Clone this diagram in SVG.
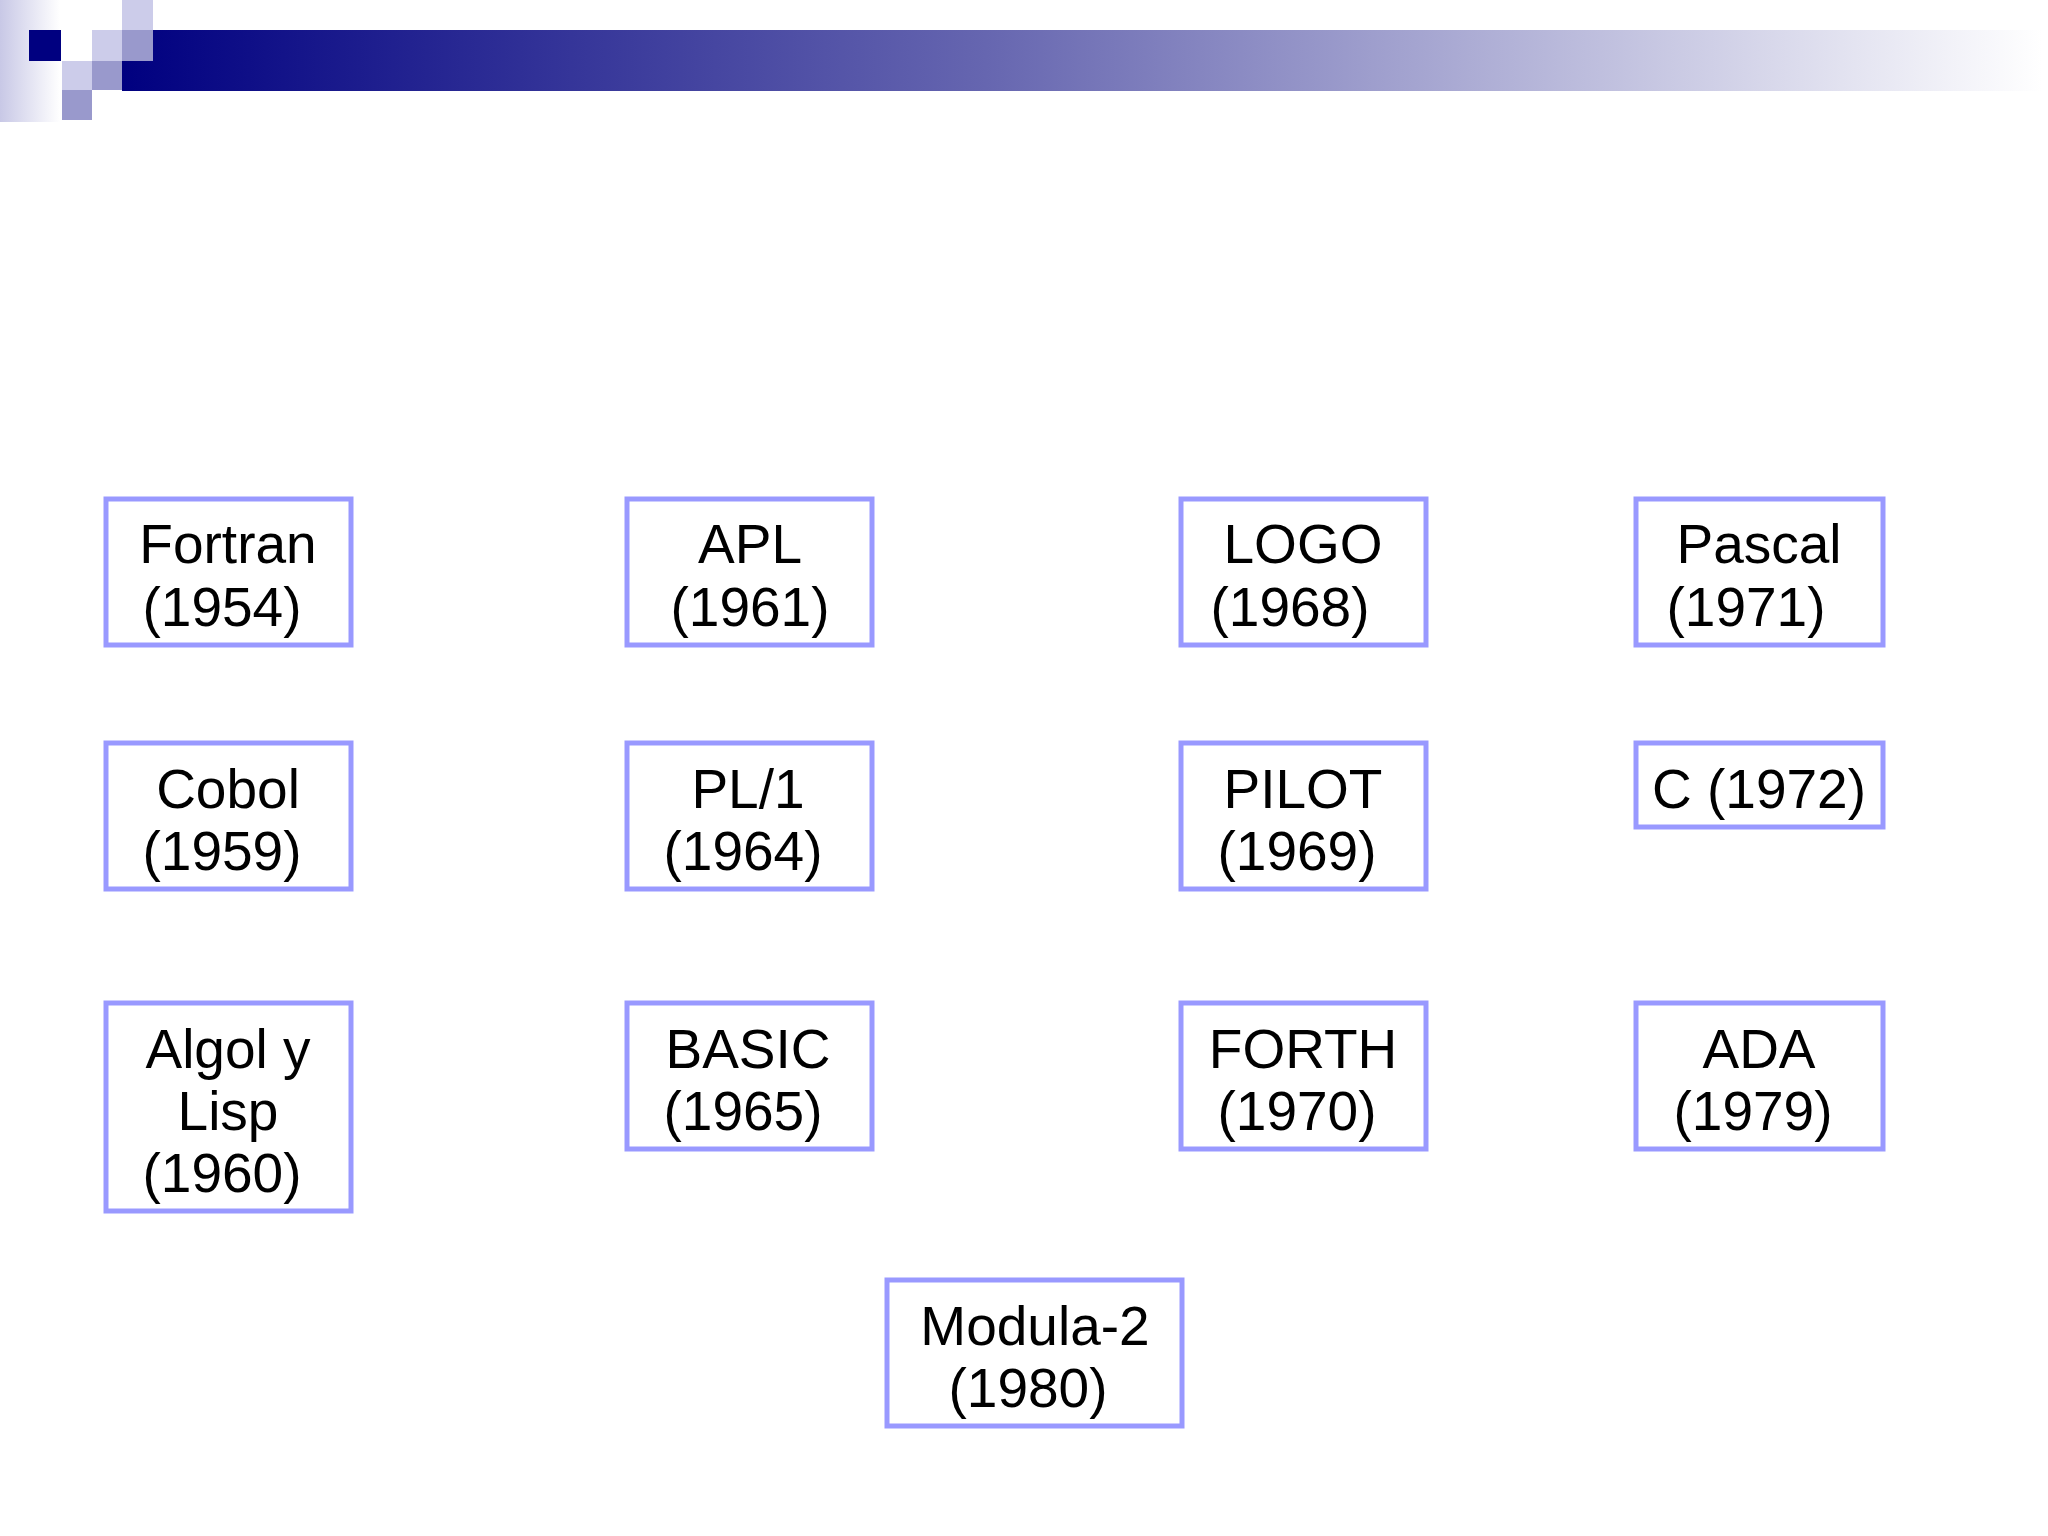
<svg xmlns="http://www.w3.org/2000/svg" width="2048" height="1536" viewBox="0 0 2048 1536">
<defs>
<linearGradient id="bar" x1="0" x2="1" y1="0" y2="0"><stop offset="0" stop-color="#000080"/><stop offset="0.45" stop-color="#6666b0"/><stop offset="1" stop-color="#ffffff"/></linearGradient>
<linearGradient id="edge" x1="0" x2="1" y1="0" y2="0"><stop offset="0" stop-color="#c8c8e6"/><stop offset="1" stop-color="#ffffff"/></linearGradient>
</defs>
<style>
.b{fill:#fff;stroke:#9999ff;stroke-width:5}
text{font-family:"Liberation Sans",Arial,sans-serif;font-size:55px;fill:#000;text-anchor:middle}
</style>
<rect width="2048" height="1536" fill="#fff"/>
<g id="header">
<rect x="0" y="0" width="60" height="122" fill="url(#edge)"/>
<rect x="122" y="30" width="1920" height="61" fill="url(#bar)"/>
<rect x="29" y="30" width="32" height="31" fill="#000080"/>
<rect x="92" y="30" width="30" height="31" fill="#ccccea"/>
<rect x="122" y="0" width="31" height="30" fill="#ccccea"/>
<rect x="122" y="30" width="31" height="31" fill="#9999cc"/>
<rect x="62" y="61" width="30" height="29" fill="#ccccea"/>
<rect x="92" y="61" width="30" height="29" fill="#9999cc"/>
<rect x="62" y="90" width="30" height="30" fill="#9999cc"/>
</g>
<g id="connectors"/>
<g id="fortran"><rect class="b" x="106" y="499" width="245" height="146"/><text x="228" y="563">Fortran</text><text x="222" y="626">(1954)</text></g>
<g id="cobol"><rect class="b" x="106" y="743" width="245" height="146"/><text x="228" y="808">Cobol</text><text x="222" y="870">(1959)</text></g>
<g id="algol"><rect class="b" x="106" y="1003" width="245" height="208"/><text x="228" y="1068">Algol y</text><text x="228" y="1130">Lisp</text><text x="222" y="1192">(1960)</text></g>
<g id="apl"><rect class="b" x="627" y="499" width="245" height="146"/><text x="750" y="563">APL</text><text x="750" y="626">(1961)</text></g>
<g id="pl1"><rect class="b" x="627" y="743" width="245" height="146"/><text x="748" y="808">PL/1</text><text x="743" y="870">(1964)</text></g>
<g id="basic"><rect class="b" x="627" y="1003" width="245" height="146"/><text x="748" y="1068">BASIC</text><text x="743" y="1130">(1965)</text></g>
<g id="logo"><rect class="b" x="1181" y="499" width="245" height="146"/><text x="1303" y="563">LOGO</text><text x="1290" y="626">(1968)</text></g>
<g id="pilot"><rect class="b" x="1181" y="743" width="245" height="146"/><text x="1303" y="808">PILOT</text><text x="1297" y="870">(1969)</text></g>
<g id="forth"><rect class="b" x="1181" y="1003" width="245" height="146"/><text x="1303" y="1068">FORTH</text><text x="1297" y="1130">(1970)</text></g>
<g id="pascal"><rect class="b" x="1636" y="499" width="247" height="146"/><text x="1759" y="563">Pascal</text><text x="1746" y="626">(1971)</text></g>
<g id="c"><rect class="b" x="1636" y="743" width="247" height="84"/><text x="1759" y="808">C (1972)</text></g>
<g id="ada"><rect class="b" x="1636" y="1003" width="247" height="146"/><text x="1759" y="1068">ADA</text><text x="1753" y="1130">(1979)</text></g>
<g id="modula"><rect class="b" x="887" y="1280" width="295" height="146"/><text x="1035" y="1345">Modula-2</text><text x="1028" y="1407">(1980)</text></g>
</svg>
